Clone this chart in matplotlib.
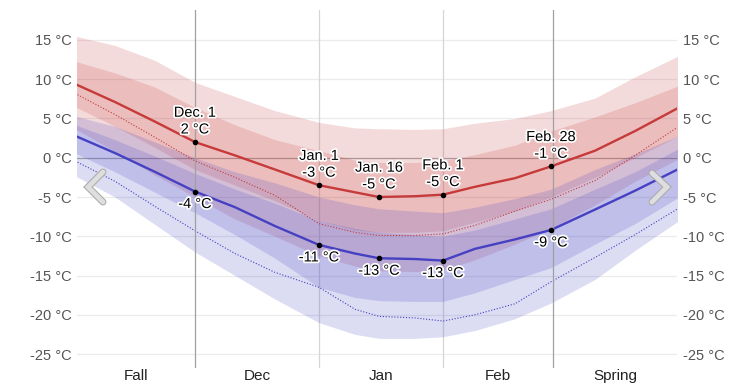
import numpy as np
import matplotlib
matplotlib.use('Agg')
import matplotlib.pyplot as plt
import matplotlib.patheffects as pe
import matplotlib.transforms as mtransforms
from matplotlib.lines import Line2D

plt.rcParams['font.family'] = ['Liberation Sans', 'DejaVu Sans']

# day number counted from Dec. 1
days = [-30, -20, -10, 0, 10, 20, 31, 40, 46, 55, 62, 70, 80, 89, 100, 110, 121]

high_avg = [9.4, 7.1, 4.6, 2.0, 0.3, -1.5, -3.5, -4.4, -5.0, -4.9, -4.7, -3.7, -2.6, -1.1, 0.9, 3.4, 6.4]
low_avg = [2.8, 0.6, -1.8, -4.3, -6.3, -8.7, -11.1, -12.2, -12.8, -12.9, -13.1, -11.6, -10.4, -9.2, -6.6, -4.2, -1.4]

high_p90 = [15.5, 14.3, 12.4, 9.6, 7.8, 6.0, 4.5, 3.8, 3.7, 3.6, 3.7, 4.4, 5.0, 6.0, 7.6, 10.3, 13.0]
high_p75 = [12.3, 10.8, 9.0, 6.4, 4.2, 2.3, 0.9, -0.3, -0.6, -0.6, -0.4, 0.4, 1.6, 3.4, 5.2, 7.0, 9.2]
high_p25 = [6.5, 4.0, 1.3, -1.5, -3.5, -5.5, -8.0, -9.2, -9.5, -9.5, -9.3, -8.2, -6.8, -5.0, -2.5, 0.0, 2.8]
high_p10 = [3.7, 0.8, -2.2, -5.0, -7.8, -10.0, -12.5, -13.8, -14.4, -14.5, -14.3, -13.0, -11.0, -9.0, -6.0, -3.0, -0.1]

low_p90 = [5.3, 4.0, 2.0, 0.0, -1.8, -3.2, -5.0, -6.0, -6.5, -6.8, -7.0, -6.3, -5.2, -4.0, -1.5, 0.5, 2.8]
low_p75 = [4.2, 2.3, 0.2, -2.0, -4.0, -5.8, -8.0, -9.0, -9.5, -9.8, -10.0, -9.2, -7.8, -6.5, -4.0, -1.8, 1.2]
low_p25 = [0.6, -1.8, -4.4, -7.0, -9.8, -12.8, -16.5, -17.8, -18.2, -18.3, -18.3, -17.2, -15.5, -14.0, -11.0, -8.4, -5.0]
low_p10 = [-2.3, -5.0, -8.5, -12.0, -15.0, -18.0, -21.0, -22.5, -23.0, -23.0, -22.8, -22.0, -20.5, -18.5, -15.5, -11.8, -8.0]

feel_high = [8.2, 5.5, 2.6, -0.4, -2.5, -4.8, -8.4, -9.5, -9.9, -9.9, -9.7, -8.6, -6.8, -5.3, -2.9, 0.3, 4.0]
feel_low = [-0.4, -3.0, -6.2, -9.3, -12.2, -14.6, -16.5, -19.3, -20.2, -20.4, -20.8, -20.0, -18.6, -15.8, -12.7, -9.8, -6.4]

label_days = [0, 31, 46, 62, 89]
label_dates = ['Dec. 1', 'Jan. 1', 'Jan. 16', 'Feb. 1', 'Feb. 28']
high_text = ['2 °C', '-3 °C', '-5 °C', '-5 °C', '-1 °C']
low_text = ['-4 °C', '-11 °C', '-13 °C', '-13 °C', '-9 °C']

# section boundaries (start, Dec 1, Jan 1, Feb 1, Mar 1, end)
bounds = [-29.5, 0, 31, 62, 89.5, 120.5]
sections = ['Fall', 'Dec', 'Jan', 'Feb', 'Spring']
season_lines = [0, 89.5]
month_lines = [31, 62]

yticks = [15, 10, 5, 0, -5, -10, -15, -20, -25]

red = '#c63a3a'
blue = '#4640c2'

fig = plt.figure(figsize=(7.53, 3.87), dpi=100)
ax = fig.add_axes([77 / 753, 19 / 387, 600 / 753, 358 / 387])

# grid
for t in yticks:
    ax.axhline(t, color='#aaaaaa' if t == 0 else '#ebebeb', lw=0.9, zorder=0)
for d in month_lines:
    ax.axvline(d, color='#d6d6d6', lw=0.9, zorder=0.5)
for d in season_lines:
    ax.axvline(d, color='#a0a0a0', lw=0.9, zorder=5)

# bands
ax.fill_between(days, high_p10, high_p90, color=(0.78, 0.22, 0.22), alpha=0.18, lw=0, zorder=1)
ax.fill_between(days, high_p25, high_p75, color=(0.78, 0.22, 0.22), alpha=0.18, lw=0, zorder=1)
ax.fill_between(days, low_p10, low_p90, color=(0.27, 0.27, 0.77), alpha=0.19, lw=0, zorder=2)
ax.fill_between(days, low_p25, low_p75, color=(0.27, 0.27, 0.77), alpha=0.19, lw=0, zorder=2)

# lines
ax.plot(days, feel_high, color=red, lw=0.8, ls=(0, (1, 1.6)), zorder=3)
ax.plot(days, feel_low, color=blue, lw=0.8, ls=(0, (1, 1.6)), zorder=3)
ax.plot(days, high_avg, color=red, lw=1.7, zorder=4)
ax.plot(days, low_avg, color=blue, lw=1.7, zorder=4)

# labels
halo = [pe.withStroke(linewidth=2.5, foreground='white')]
for d, name, ht, lt in zip(label_days, label_dates, high_text, low_text):
    i = days.index(d)
    ax.plot(d, high_avg[i], 'o', color='black', ms=3, zorder=6)
    ax.plot(d, low_avg[i], 'o', color='black', ms=3, zorder=6)
    ax.annotate(name + '\n' + ht, (d, high_avg[i]), xytext=(0, 4), textcoords='offset points',
                ha='center', va='bottom', fontsize=10.5, linespacing=1.25, path_effects=halo, zorder=7)
    ax.annotate(lt, (d, low_avg[i]), xytext=(0, -4), textcoords='offset points',
                ha='center', va='top', fontsize=10.5, path_effects=halo, zorder=7)

# section names under the axis
trans = mtransforms.blended_transform_factory(ax.transData, ax.transAxes)
for k, name in enumerate(sections):
    ax.text((bounds[k] + bounds[k + 1]) / 2, -0.022, name, transform=trans,
            ha='center', va='center', fontsize=11, color='#222222')

ax.set_xlim(bounds[0], bounds[-1])
ax.set_ylim(-26.78, 18.82)
ax.set_yticks(yticks)
ax.set_yticklabels(['%d °C' % t for t in yticks])
ax.set_xticks([])
ax.tick_params(axis='y', length=0, pad=4, labelsize=10.5, labelcolor='#555555',
               labelleft=True, labelright=True)
for s in ax.spines.values():
    s.set_visible(False)

# navigation chevrons
for pts in ([(103, 172), (88, 187), (103, 202)], [(652, 173), (667, 187), (652, 202)]):
    xs = [p[0] / 753 for p in pts]
    ys = [1 - p[1] / 387 for p in pts]
    fig.add_artist(Line2D(xs, ys, color='#dedede', lw=3.5, solid_capstyle='round',
                          solid_joinstyle='miter',
                          path_effects=[pe.withStroke(linewidth=5, foreground='#aaaaaa')],
                          transform=fig.transFigure, zorder=10))

fig.savefig('out.png', dpi=100)
